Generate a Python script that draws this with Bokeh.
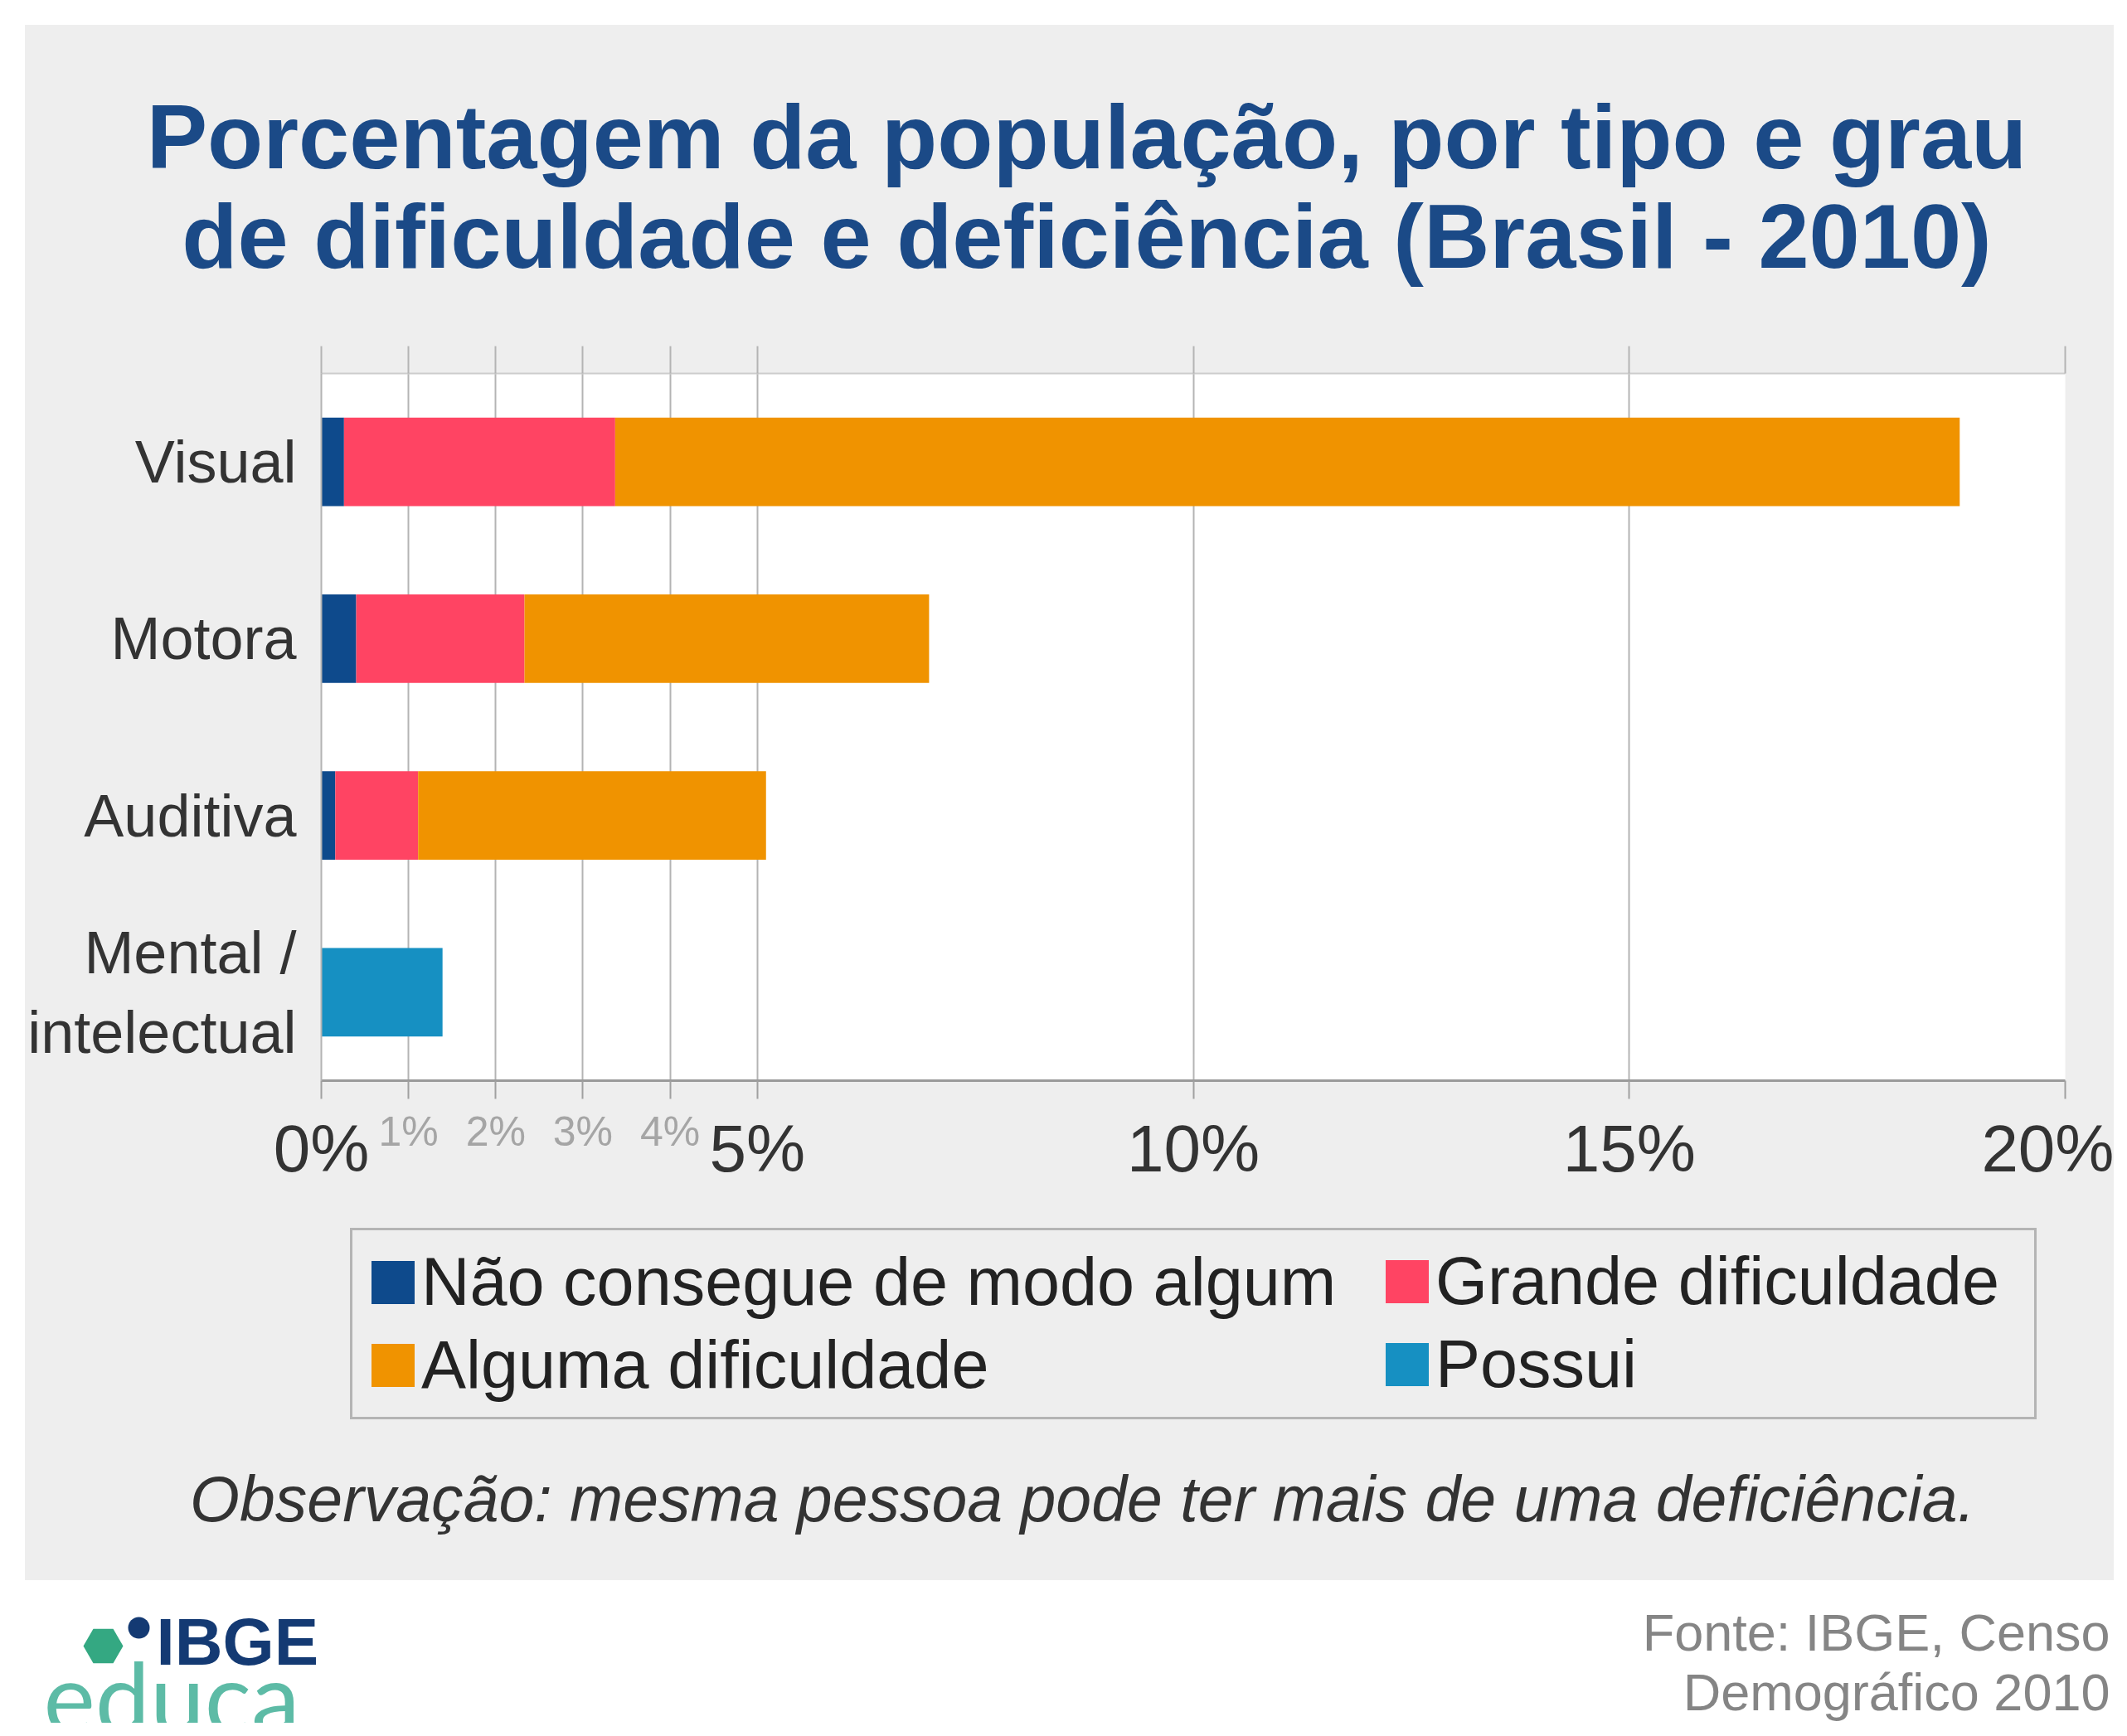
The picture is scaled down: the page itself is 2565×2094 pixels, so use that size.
from bokeh.plotting import figure
from bokeh.models import (ColumnDataSource, FactorRange, Range1d, FixedTicker, LinearAxis,
                          Legend, LegendItem, Label, Spacer)
from bokeh.layouts import column, row
from bokeh.transform import stack
from bokeh.embed import file_html
from bokeh.resources import INLINE

# ---------------- data ----------------
categories = ["Visual", "Motora", "Auditiva", "Mental /\nintelectual"]
nao_consegue = [0.26, 0.40, 0.16, 0.0]
grande_dificuldade = [3.11, 1.93, 0.95, 0.0]
alguma_dificuldade = [15.42, 4.64, 3.99, 0.0]
possui = [0.0, 0.0, 0.0, 1.39]

series_fields = ["nao", "grande", "alguma", "possui"]
series_labels = ["Não consegue de modo algum", "Grande dificuldade",
                 "Alguma dificuldade", "Possui"]
series_colors = ["#0E4A8C", "#FF4463", "#F09300", "#1690C2"]

major_ticks = [0, 5, 10, 15, 20]
major_tick_labels = ["0%", "5%", "10%", "15%", "20%"]
minor_ticks = [1, 2, 3, 4]
minor_tick_labels = ["1%", "2%", "3%", "4%"]

title_lines = ["Porcentagem da população, por tipo e grau",
               "de dificuldade e deficiência (Brasil - 2010)"]
note_text = "Observação: mesma pessoa pode ter mais de uma deficiência."
source_lines = ["Fonte: IBGE, Censo", "Demográfico 2010"]
logo_texts = ["IBGE", "educa"]

# ---------------- style ----------------
FONT = "Liberation Sans"
PANEL = "#EEEEEE"
GRID = "#B4B4B4"
TITLE_C = "#1B4A87"

PAGE_W, PAGE_H = 2549, 2078
GX, GY = 30, 30           # gray panel origin
GW = PAGE_W - GX          # gray panel width
T_H = 370                 # title strip  (30 .. 400)
M_H = 1060                # chart        (400 .. 1460)
L_H = 446                 # legend/note  (1460 .. 1906)
B_H = PAGE_H - GY - T_H - M_H - L_H   # white bottom strip


def unalign(f):
    try:
        f.frame_align = False
    except Exception:
        pass
    return f


def canvas_fig(w, h, fill):
    f = figure(width=w, height=h, x_range=Range1d(0, w), y_range=Range1d(0, h),
               output_backend="svg", toolbar_location=None, min_border=0,
               x_axis_type=None, y_axis_type=None)
    f.grid.visible = False
    f.outline_line_color = None
    f.background_fill_color = fill
    f.border_fill_color = fill
    return unalign(f)


# ---------------- title strip ----------------
t = canvas_fig(GW, T_H, PANEL)
for txt, y in zip(title_lines, [164, 284]):
    t.add_layout(Label(x=1310 - GX, y=GY + T_H - y, text=txt, text_align="center",
                       text_baseline="alphabetic", text_font=FONT, text_font_style="bold",
                       text_font_size="110px", text_color=TITLE_C))

# ---------------- chart ----------------
FR_L, FR_R, FR_T, FR_B = 385, 2490, 450, 1303   # frame in page coords
p = figure(width=GW, height=M_H,
           y_range=FactorRange(factors=categories[::-1]),
           x_range=Range1d(0, 20),
           output_backend="svg", toolbar_location=None,
           min_border_left=FR_L - GX, min_border_right=PAGE_W - FR_R,
           min_border_top=FR_T - 400, min_border_bottom=1460 - FR_B)
unalign(p)
p.border_fill_color = PANEL
p.background_fill_color = "white"
p.outline_line_color = None

src = ColumnDataSource(dict(cat=categories, nao=nao_consegue, grande=grande_dificuldade,
                            alguma=alguma_dificuldade, possui=possui))
for i, f in enumerate(series_fields):
    p.hbar(y="cat", left=stack(*series_fields[:i]), right=stack(*series_fields[:i + 1]),
           height=0.5, fill_color=series_colors[i], line_color=None, source=src)

# axis closest to the frame: small labels 1%..4%, tick marks at every gridline
ax_minor = p.below[0]
ax_minor.ticker = FixedTicker(ticks=minor_ticks, minor_ticks=major_ticks)
ax_minor.major_label_overrides = {t_: lab for t_, lab in zip(minor_ticks, minor_tick_labels)}
ax_minor.major_label_text_font = FONT
ax_minor.major_label_text_font_size = "50px"
ax_minor.major_label_text_color = "#A5A5A5"
ax_minor.major_label_standoff = 11
ax_minor.axis_line_color = "#9A9A9A"
ax_minor.axis_line_width = 3
for attr in ("major", "minor"):
    setattr(ax_minor, attr + "_tick_out", 22)
    setattr(ax_minor, attr + "_tick_in", 0)
    setattr(ax_minor, attr + "_tick_line_color", "#A0A0A0")
    setattr(ax_minor, attr + "_tick_line_width", 2)

# second axis: big labels 0%..20%
ax_major = LinearAxis(ticker=FixedTicker(ticks=major_ticks))
ax_major.major_label_overrides = {t_: lab for t_, lab in zip(major_ticks, major_tick_labels)}
ax_major.major_label_text_font = FONT
ax_major.major_label_text_font_size = "80px"
ax_major.major_label_text_color = "#333333"
ax_major.major_label_standoff = -55
ax_major.axis_line_color = None
ax_major.major_tick_line_color = None
ax_major.minor_tick_line_color = None
ax_major.major_tick_out = 0
ax_major.major_tick_in = 0
p.add_layout(ax_major, "below")

# top axis: only tick marks extending the gridlines
top_ax = LinearAxis(ticker=FixedTicker(ticks=major_ticks, minor_ticks=minor_ticks))
top_ax.major_label_overrides = {t_: "" for t_ in major_ticks}
top_ax.major_label_text_font_size = "1px"
top_ax.major_label_standoff = 0
top_ax.axis_line_color = "#CDCDCD"
top_ax.axis_line_width = 2
for attr in ("major", "minor"):
    setattr(top_ax, attr + "_tick_out", 33)
    setattr(top_ax, attr + "_tick_in", 0)
    setattr(top_ax, attr + "_tick_line_color", GRID)
    setattr(top_ax, attr + "_tick_line_width", 2)
p.add_layout(top_ax, "above")

p.xgrid.ticker = FixedTicker(ticks=major_ticks, minor_ticks=minor_ticks)
p.xgrid.grid_line_color = GRID
p.xgrid.grid_line_width = 2
p.xgrid.minor_grid_line_color = GRID
p.xgrid.minor_grid_line_width = 2
p.ygrid.grid_line_color = None

yax = p.left[0]
yax.major_label_text_font = FONT
yax.major_label_text_font_size = "72px"
yax.major_label_text_color = "#333333"
yax.major_tick_line_color = None
yax.major_tick_out = 0
yax.major_label_standoff = 30
yax.axis_line_color = GRID
yax.axis_line_width = 2

# ---------------- legend + note strip ----------------
lg = canvas_fig(GW, L_H, PANEL)
swatches = []
for c in series_colors:
    # zero-width bar placed outside the visible range: only used for its legend swatch
    swatches.append(lg.hbar(y=[-1000], left=[0], right=[0], height=1,
                            fill_color=c, line_color=None))

PAD, GLW, STD = 16, 65, 2
common = dict(orientation="vertical", padding=PAD, spacing=7, glyph_width=GLW, glyph_height=GLW,
              label_standoff=STD, label_text_font=FONT, label_text_font_size="81px",
              label_text_color="#222222", margin=0, label_text_baseline="middle")
leg_bottom = 1906 - 1712
legA = Legend(items=[LegendItem(label=series_labels[0], renderers=[swatches[0]]),
                     LegendItem(label=series_labels[2], renderers=[swatches[2]])],
              location=(422 - GX, leg_bottom), label_width=2028 - 2 * PAD - GLW - STD,
              border_line_color="#7A7A7A", border_line_width=3,
              background_fill_color=PANEL, background_fill_alpha=1.0, **common)
legB = Legend(items=[LegendItem(label=series_labels[1], renderers=[swatches[1]]),
                     LegendItem(label=series_labels[3], renderers=[swatches[3]])],
              location=(1680 - PAD - GX, leg_bottom + 20),
              border_line_color=None, background_fill_alpha=0.0, **common)
lg.add_layout(legA, "center")
lg.add_layout(legB, "center")

lg.add_layout(Label(x=1305 - GX, y=1906 - 1807, text=note_text, text_align="center",
                    text_baseline="alphabetic", text_font=FONT, text_font_style="italic",
                    text_font_size="77px", text_color="#333333"))

# ---------------- bottom strip (logo + source) ----------------
q = canvas_fig(PAGE_W, B_H, "white")
Y0 = PAGE_H   # page y of the strip's bottom edge
q.scatter(x=[124], y=[Y0 - 1985], marker="hex", size=48, fill_color="#34A882", line_color=None)
q.scatter(x=[167], y=[Y0 - 1963], marker="circle", size=26, fill_color="#143A73", line_color=None)
q.add_layout(Label(x=188, y=Y0 - 1980, text=logo_texts[0], text_font=FONT, text_font_style="bold",
                   text_font_size="80px", text_color="#143A73", text_baseline="alphabetic"))
q.add_layout(Label(x=52, y=Y0 - 2045, text=logo_texts[1], text_font="Lato",
                   text_font_size="118px", text_color="#5DBBA6", text_baseline="alphabetic"))
for txt, y in zip(source_lines, [1968, 2040]):
    q.add_layout(Label(x=2544, y=Y0 - y, text=txt, text_font=FONT, text_font_size="63px",
                       text_color="#858585", text_align="right", text_baseline="alphabetic"))

inner = column(t, p, lg, styles={"background-color": PANEL})
layout = column(Spacer(width=PAGE_W, height=GY),
                row(Spacer(width=GX, height=T_H + M_H + L_H), inner),
                q)

open("out.html", "w").write(file_html(layout, INLINE))
